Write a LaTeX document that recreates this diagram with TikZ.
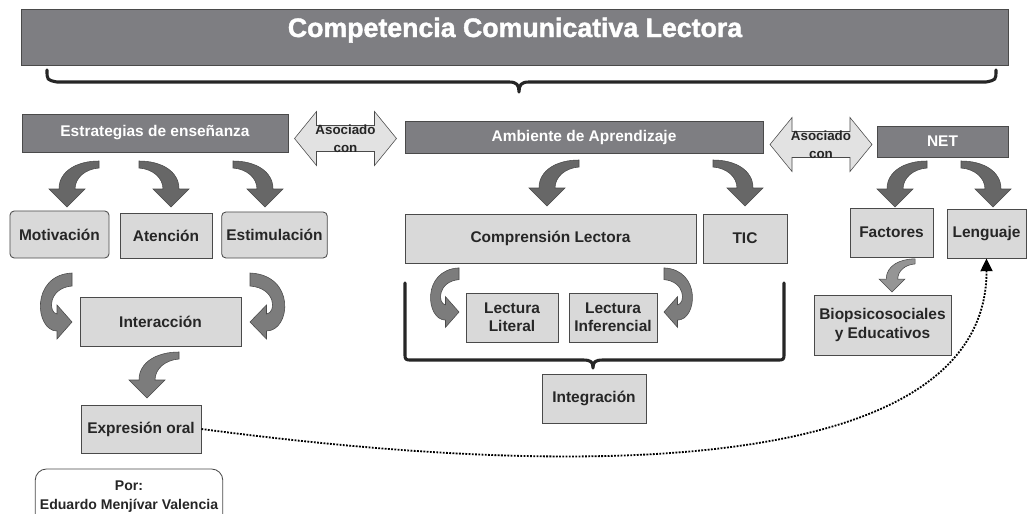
\documentclass[tikz,border=0pt]{standalone}
\usepackage{fontspec}
\setmainfont{Liberation Sans}
\newfontfamily\heavyfont{Liberation Sans}[BoldFeatures={FakeBold=1.5}]
\usetikzlibrary{arrows.meta}

\definecolor{headgray}{HTML}{7E7E82}
\definecolor{boxgray}{HTML}{D9D9D9}
\definecolor{linegray}{HTML}{4A4A4A}
\definecolor{arrowdark}{HTML}{676767}
\definecolor{arrowmid}{HTML}{7C7C7C}
\definecolor{arrowlight}{HTML}{959595}
\definecolor{asocgray}{HTML}{E2E2E2}
\definecolor{textdark}{HTML}{262626}

\tikzset{
  headbox/.style={draw=linegray, fill=headgray, text=white, inner sep=2pt,
    font=\fontsize{11}{13}\selectfont\bfseries, line width=0.6pt},
  itembox/.style={draw=linegray, fill=boxgray, text=textdark, align=center,
    font=\fontsize{11}{13}\selectfont\bfseries, line width=0.6pt},
  asoctext/.style={text=textdark, align=center, font=\fontsize{9.5}{12.5}\selectfont\bfseries},
  bracket/.style={draw=textdark, line width=2.2pt, line cap=round, line join=round},
  blockarrow/.style={draw=linegray, line width=0.4pt},
  bendarrow/.pic={\path[pic actions] (32,-46) .. controls (10,-46) and (-8,-36) .. (-8,-18)
    -- (-18,-18) -- (0,0) -- (18,-18) -- (8,-18) .. controls (8,-29) and (18,-38) .. (32,-39) -- cycle;},
  hookarrow/.pic={\path[pic actions] (0,-49) .. controls (-42,-47) and (-37,9) .. (-15,9)
    -- (-15,17) -- (0,0) -- (-15,-17) -- (-15,-8) .. controls (-24,-9) and (-24,-34) .. (0,-36) -- cycle;},
  twoway/.pic={\path[pic actions] (-51,0) -- (-29,-27) -- (-29,-13) -- (29,-13) -- (29,-27)
    -- (51,0) -- (29,27) -- (29,13) -- (-29,13) -- (-29,27) -- cycle;},
}

\begin{document}
\begin{tikzpicture}[x=0.025cm, y=-0.025cm]
\fill[white] (0,0) rectangle (1028,514);
\useasboundingbox (0,0) rectangle (1028,514);

\node[headbox, font=\fontsize{19}{22}\selectfont\heavyfont\bfseries, minimum width=24.65cm, minimum height=1.4cm,
  text height=14pt, text depth=14pt] (title) at (515,37) {Competencia Comunicativa Lectora};
\draw[bracket] (47,70) .. controls (47,80) .. (57,82) -- (509,82) .. controls (517,82) and (519,85) .. (519,92)
  .. controls (519,85) and (521,82) .. (529,82) -- (986,82) .. controls (996,80) .. (996,70);

% segunda fila
\node[headbox, minimum width=6.65cm, minimum height=0.95cm] (estr) at (155,133) {Estrategias de enseñanza};
\pic[fill=asocgray, blockarrow] at (345.5,138.5) {twoway};
\node[asoctext] (asoc1) at (345.5,139) {Asociado\\con};
\node[headbox, minimum width=8.95cm, minimum height=0.8cm] (amb) at (584,137) {Ambiente de Aprendizaje};
\pic[fill=asocgray, blockarrow] at (821,144.5) {twoway};
\node[asoctext] (asoc2) at (821,145) {Asociado\\con};
\node[headbox, minimum width=3.275cm, minimum height=0.775cm] (net) at (942.5,141.5) {NET};

\pic[fill=arrowdark, blockarrow] at (67,207) {bendarrow};
\pic[fill=arrowdark, blockarrow, xscale=-1] at (171,207) {bendarrow};
\pic[fill=arrowdark, blockarrow, xscale=-1] at (265,207) {bendarrow};
\pic[fill=arrowdark, blockarrow] at (547,206) {bendarrow};
\pic[fill=arrowdark, blockarrow, xscale=-1] at (745,206) {bendarrow};
\pic[fill=arrowdark, blockarrow] at (895,207) {bendarrow};
\pic[fill=arrowdark, blockarrow, xscale=-1] at (993,207) {bendarrow};

% tercera fila
\node[itembox, rounded corners=3pt, minimum width=2.475cm, minimum height=1.175cm] (mot) at (59.5,234.5) {Motivación};
\node[itembox, minimum width=2.3cm, minimum height=1.125cm] (aten) at (166,235.5) {Atención};
\node[itembox, rounded corners=3pt, minimum width=2.625cm, minimum height=1.15cm] (estim) at (274.5,235) {Estimulación};
\node[itembox, minimum width=7.275cm, minimum height=1.225cm] (comp) at (550.5,238.5) {Comprensión Lectora};
\node[itembox, minimum width=2.1cm, minimum height=1.225cm] (tic) at (745,238.5) {TIC};
\node[itembox, minimum width=2.075cm, minimum height=1.225cm] (fact) at (891.5,232.5) {Factores};
\node[itembox, minimum width=1.975cm, minimum height=1.225cm] (leng) at (986.5,233.5) {Lenguaje};

\pic[fill=arrowmid, blockarrow] at (72,322) {hookarrow};
\pic[fill=arrowmid, blockarrow, xscale=-1.1] at (250,322) {hookarrow};
\pic[fill=arrowmid, blockarrow, scale=0.9] at (459,312) {hookarrow};
\pic[fill=arrowmid, blockarrow, xscale=-0.9, yscale=0.9] at (664,312) {hookarrow};
\pic[fill=arrowlight, blockarrow, scale=0.72] at (892,292) {bendarrow};

\node[itembox, minimum width=4.025cm, minimum height=1.225cm] (inter) at (160.5,321.5) {Interacción};
\node[itembox, minimum width=2.3cm, minimum height=1.225cm] (lit) at (512,317.5) {Lectura\\Literal};
\node[itembox, minimum width=2.2cm, minimum height=1.225cm] (inf) at (613,317.5) {Lectura\\Inferencial};
\node[itembox, minimum width=3.425cm, minimum height=1.5cm] (bio) at (882.5,325) {Biopsicosociales\\y Educativos};

\draw[bracket] (405,283) -- (405,353) .. controls (405,360) .. (412,360) -- (583,360)
  .. controls (591,360) and (593,362) .. (593,368) .. controls (593,362) and (595,360) .. (603,360)
  -- (777,360) .. controls (784,360) .. (784,353) -- (784,283);
\node[itembox, minimum width=2.6cm, minimum height=1.225cm] (integ) at (594,398.5) {Integración};

\pic[fill=arrowmid, blockarrow] at (147,398) {bendarrow};
\node[itembox, minimum width=3cm, minimum height=1.2cm] (expr) at (141,429) {Expresión oral};

\draw[densely dotted, line width=1.3pt, -{Triangle[length=0.32cm,width=0.3cm]}]
  (expr.east) .. controls (701,495) and (987,442) .. (leng.south);

\node[draw=linegray, fill=white, rounded corners=8pt, line width=0.6pt, minimum width=4.65cm, minimum height=1.4cm,
  text=textdark, align=center, font=\fontsize{10}{13.5}\selectfont\bfseries] (por) at (129,497) {Por:\\Eduardo Menjívar Valencia};
\end{tikzpicture}
\end{document}
